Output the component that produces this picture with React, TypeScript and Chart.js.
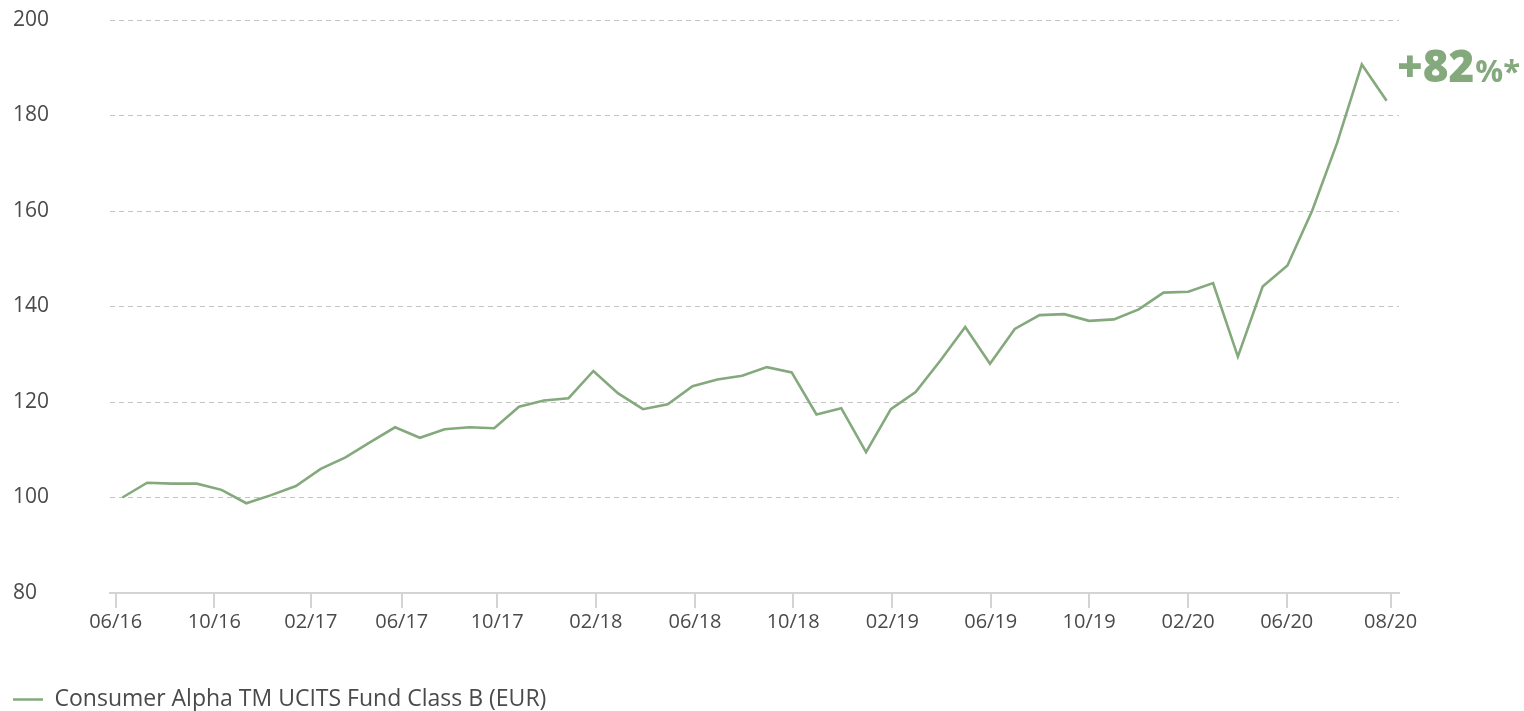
import React, { useEffect, useRef } from 'react';
import { Chart, registerables } from 'chart.js';

Chart.register(...registerables);

// Fund index values (base 100), one per observation
const fundValues = [
  100.0, 103.1, 102.9, 102.9, 101.6, 98.8, 100.5, 102.4, 106.0, 108.4,
  111.6, 114.7, 112.5, 114.3, 114.7, 114.5, 119.0, 120.3, 120.8, 126.5,
  121.8, 118.5, 119.5, 123.3, 124.7, 125.5, 127.3, 126.2, 117.4, 118.7,
  109.5, 118.5, 122.1, 128.7, 135.7, 128.0, 135.3, 138.2, 138.4, 137.0,
  137.3, 139.4, 142.9, 143.1, 144.9, 129.5, 144.2, 148.6, 160.1, 174.2,
  190.7, 183.1,
];

// X tick labels and their positions on the observation-index scale
const tickLabels = [
  '06/16', '10/16', '02/17', '06/17', '10/17', '02/18', '06/18',
  '10/18', '02/19', '06/19', '10/19', '02/20', '06/20', '08/20',
];
const tickPositions = [
  -0.27, 3.71, 7.6, 11.27, 15.12, 19.1, 23.1,
  27.06, 31.06, 35.03, 39.0, 42.99, 46.97, 51.16,
];

const yTicks = [80, 100, 120, 140, 160, 180, 200];

const seriesLabel = 'Consumer Alpha TM UCITS Fund Class B (EUR)';
const performanceMain = '+82';
const performanceSuffix = '%*';

const lineColor = '#84a97d';
const textColor = '#4a4a4a';
const fontFamily = '"Open Sans", "Liberation Sans", sans-serif';

const endLabelPlugin = {
  id: 'endLabel',
  afterDatasetsDraw(chart: any) {
    const { ctx, chartArea } = chart;
    ctx.save();
    ctx.fillStyle = lineColor;
    ctx.textBaseline = 'alphabetic';
    ctx.textAlign = 'left';
    const x0 = chartArea.right - 2;
    const y0 = chartArea.top + 62;
    ctx.font = `800 44px ${fontFamily}`;
    ctx.fillText(performanceMain, x0, y0);
    const w = ctx.measureText(performanceMain).width;
    ctx.font = `700 31px ${fontFamily}`;
    ctx.fillText(performanceSuffix, x0 + w + 1, y0);
    ctx.restore();
  },
};

export default function App() {
  const canvasRef = useRef<HTMLCanvasElement | null>(null);

  useEffect(() => {
    if (!canvasRef.current) return;
    const chart = new Chart(canvasRef.current, {
      type: 'line',
      data: {
        datasets: [
          {
            label: seriesLabel,
            data: fundValues.map((v, i) => ({ x: i, y: v })),
            borderColor: lineColor,
            backgroundColor: lineColor,
            borderWidth: 2.6,
            pointRadius: 0,
            pointHoverRadius: 0,
            tension: 0,
            fill: false,
          },
        ],
      },
      options: {
        animation: false,
        responsive: true,
        maintainAspectRatio: false,
        layout: { padding: { left: 13, right: 125, top: 20, bottom: -10 } },
        plugins: {
          tooltip: { enabled: false },
          legend: {
            position: 'bottom',
            align: 'start',
            labels: {
              boxWidth: 30,
              boxHeight: 0,
              padding: 0,
              color: textColor,
              font: { family: fontFamily, size: 23 },
            },
          },
        },
        scales: {
          x: {
            type: 'linear',
            min: -0.5,
            max: 51.5,
            afterBuildTicks: (scale: any) => {
              scale.ticks = tickPositions.map((v) => ({ value: v }));
            },
            afterFit: (scale: any) => {
              scale.height = 95;
            },
            grid: {
              drawOnChartArea: false,
              drawTicks: true,
              tickLength: 15,
              tickColor: '#d4d4d4',
              tickWidth: 2,
              color: '#d4d4d4',
              lineWidth: 2,
            },
            border: { display: true, color: '#d4d4d4', width: 2 },
            ticks: {
              autoSkip: false,
              maxRotation: 0,
              padding: 2,
              color: textColor,
              font: { family: fontFamily, size: 20 },
              callback: (_v: any, index: number) => tickLabels[index],
            },
          },
          y: {
            min: 80,
            max: 200,
            afterBuildTicks: (scale: any) => {
              scale.ticks = yTicks.map((v) => ({ value: v }));
            },
            afterFit: (scale: any) => {
              scale.width = 97;
            },
            grid: {
              drawTicks: false,
              color: '#c4c4c4',
              lineWidth: 1,
            },
            border: { display: false, dash: [5, 4] },
            ticks: {
              crossAlign: 'far',
              padding: 0,
              color: textColor,
              font: { family: fontFamily, size: 21 },
            },
          },
        },
      },
      plugins: [endLabelPlugin],
    } as any);
    return () => chart.destroy();
  }, []);

  return (
    <div style={{ position: 'fixed', left: 0, top: 0, width: 1524, height: 711, background: '#fff' }}>
      <canvas ref={canvasRef} />
    </div>
  );
}
